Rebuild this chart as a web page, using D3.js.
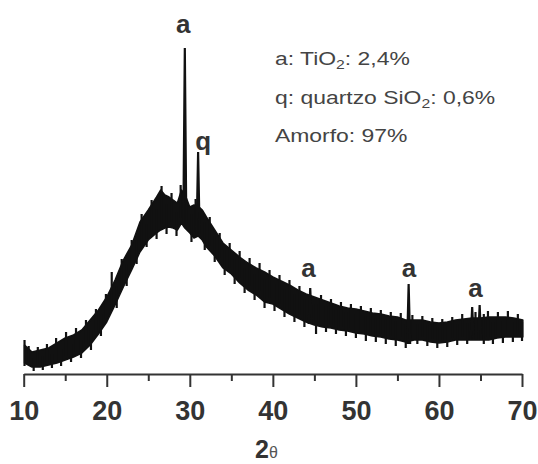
<html>
<head>
    <title>DRX</title>
    <script src='https://d3js.org/d3.v7.min.js'></script>
    <style>
        body { margin: 0; background: #fff; }
        text { font-family: "Liberation Sans", Arial, sans-serif; }
        .lbl { font-weight: bold; font-size: 26px; fill: #333; }
        .info { font-size: 17.5px; fill: #444; }
    </style>
</head>
<body>
    <svg id="drx"></svg>
    <script>
        // 2theta positions of the envelope of the noisy amorphous band
        var theta = [10.1, 11, 12, 13, 14, 15, 16, 17, 18, 19, 20, 21, 22, 23, 24, 25, 26, 26.5, 27, 27.5, 28, 28.5, 29, 29.4, 30, 30.5, 31, 31.5, 32, 33, 34, 35, 36, 37, 38, 39, 40, 41, 42, 43, 44, 45, 46, 47, 48, 49, 50, 51, 52, 53, 54, 55, 56, 57, 58, 59, 60, 61, 62, 63, 64, 65, 66, 67, 68, 69, 70.1];
        var lower = [11, 7, 7, 9, 11, 14, 17, 21, 29, 40, 52, 69, 87, 104, 122, 134, 141, 144, 146, 147, 146, 144, 151, 146, 141, 136, 138, 134, 127, 118, 106, 100, 91, 84, 79, 72, 70, 65, 60, 56, 52, 49, 47, 46, 44, 43, 41, 40, 38, 37, 35, 34, 32, 34, 34, 32, 31, 32, 34, 34, 34, 34, 34, 36, 37, 37, 37];
        var upper = [29, 22, 24, 26, 31, 36, 39, 44, 54, 64, 77, 94, 114, 129, 152, 164, 177, 184, 179, 177, 174, 171, 184, 180, 167, 169, 168, 164, 157, 144, 131, 124, 117, 111, 106, 102, 97, 93, 89, 84, 80, 77, 74, 71, 68, 66, 65, 63, 61, 60, 58, 57, 54, 54, 54, 52, 51, 52, 54, 55, 56, 56, 57, 57, 57, 56, 54];

        // sharp crystalline reflections: [2theta, base, top]
        var peaks = [[29.4, 150, 326], [31.0, 140, 222], [44.5, 50, 86], [56.35, 30, 90], [64.0, 34, 67], [64.9, 34, 69]];

        // noise spikes of the scan: [2theta, low, high]
        var noise = [[10.1, 8, 34], [10.6, 12, 28], [11.2, 3, 16], [11.7, 10, 27], [12.3, 4, 18], [12.8, 12, 30], [13.4, 6, 20], [13.9, 14, 36], [14.5, 8, 25], [15.1, 18, 42], [15.7, 12, 30], [16.3, 22, 46], [16.9, 16, 34], [17.5, 30, 54], [18.1, 24, 44], [18.7, 42, 65], [19.3, 38, 60], [19.9, 55, 80], [20.6, 65, 102], [21.2, 66, 88], [21.8, 88, 115], [22.4, 88, 110], [23.0, 108, 134], [23.6, 110, 134], [24.2, 128, 160], [24.8, 127, 150], [25.4, 142, 174], [26.0, 135, 165], [26.6, 150, 188], [27.2, 140, 170], [27.8, 152, 181], [28.4, 138, 162], [28.9, 156, 189], [30.2, 132, 160], [30.7, 142, 175], [31.8, 124, 152], [32.4, 128, 157], [33.0, 112, 138], [33.6, 116, 141], [34.2, 99, 124], [34.8, 106, 131], [35.4, 90, 115], [36.0, 96, 123], [36.6, 81, 106], [37.2, 88, 116], [37.8, 74, 100], [38.4, 83, 111], [39.0, 66, 95], [39.6, 76, 104], [40.2, 63, 90], [40.8, 70, 99], [41.4, 57, 85], [42.0, 64, 94], [42.6, 52, 80], [43.2, 59, 88], [43.8, 47, 75], [45.2, 40, 70], [45.8, 51, 79], [46.4, 42, 68], [47.0, 49, 75], [47.6, 40, 65], [48.2, 47, 72], [48.8, 38, 62], [49.4, 46, 70], [50.0, 36, 60], [50.6, 44, 68], [51.2, 33, 58], [51.8, 42, 66], [52.4, 32, 56], [53.0, 40, 64], [53.6, 30, 55], [54.2, 38, 62], [54.8, 28, 53], [55.4, 37, 61], [56.0, 26, 50], [56.8, 36, 59], [57.4, 30, 50], [58.0, 37, 58], [58.6, 28, 49], [59.2, 35, 56], [59.8, 26, 47], [60.4, 34, 55], [61.0, 27, 48], [61.6, 36, 57], [62.2, 29, 50], [62.8, 37, 60], [63.4, 30, 51], [64.4, 37, 62], [65.4, 30, 60], [65.9, 37, 63], [66.5, 30, 52], [67.1, 39, 62], [67.7, 31, 53], [68.3, 40, 63], [68.9, 32, 52], [69.5, 40, 60], [70.0, 33, 52]];

        var majorTicks = [10, 20, 30, 40, 50, 60, 70];
        var minorTicks = [15, 25, 35, 45, 55, 65];

        // peak labels: [text, 2theta, intensity]
        var peakLabels = [["a", 29.2, 341], ["q", 31.6, 224], ["a", 44.3, 97], ["a", 56.4, 97], ["a", 64.4, 77]];
        var infoLines = [["a: TiO", "2", ": 2,4%"], ["q: quartzo SiO", "2", ": 0,6%"], ["Amorfo: 97%", "", ""]];

        var width = 538, height = 464;
        var x = d3.scaleLinear().domain([10, 70]).range([23.7, 522]);
        var y = d3.scaleLinear().domain([0, 340]).range([374, 34]);

        var svg = d3.select("#drx").attr("width", width).attr("height", height);

        var band = theta.map(function (t, i) { return [t, lower[i], upper[i]]; });
        svg.append("path")
            .datum(band)
            .attr("d", d3.area()
                .x(function (d) { return x(d[0]); })
                .y0(function (d) { return y(d[1]); })
                .y1(function (d) { return y(d[2]); }))
            .attr("fill", "#111")
            .attr("stroke", "#111")
            .attr("stroke-width", 1.5)
            .attr("stroke-linejoin", "round");

        svg.selectAll(".noise")
            .data(noise)
            .enter()
            .append("line")
            .attr("x1", function (d) { return x(d[0]); })
            .attr("x2", function (d) { return x(d[0]); })
            .attr("y1", function (d) { return y(d[1]); })
            .attr("y2", function (d) { return y(d[2]); })
            .attr("stroke", "#111")
            .attr("stroke-width", 2.2);

        svg.selectAll(".peak")
            .data(peaks)
            .enter()
            .append("path")
            .attr("d", function (d) {
                return d3.line()([[x(d[0]) - 1.5, y(d[1])], [x(d[0]), y(d[2])], [x(d[0]) + 1.5, y(d[1])]]);
            })
            .attr("fill", "#111")
            .attr("stroke", "#111")
            .attr("stroke-width", 2.2);

        // x axis
        var axis = svg.append("g")
            .attr("transform", "translate(0," + y(0) + ")")
            .call(d3.axisBottom(x).tickValues(majorTicks).tickSize(13).tickSizeOuter(0).tickPadding(14));
        axis.select(".domain").attr("stroke", "#333").attr("stroke-width", 2);
        axis.selectAll(".tick line").attr("stroke", "#333").attr("stroke-width", 2);
        axis.selectAll(".tick text")
            .attr("fill", "#333")
            .style("font-size", "27px")
            .style("font-weight", "bold")
            .style("font-family", "'Liberation Sans', Arial, sans-serif");

        var minor = svg.append("g")
            .attr("transform", "translate(0," + y(0) + ")")
            .call(d3.axisBottom(x).tickValues(minorTicks).tickSize(7).tickFormat(""));
        minor.select(".domain").remove();
        minor.selectAll(".tick line").attr("stroke", "#333").attr("stroke-width", 2);

        var xl = svg.append("text")
            .attr("x", 255)
            .attr("y", 458)
            .attr("fill", "#333");
        xl.append("tspan").style("font-weight", "bold").style("font-size", "25px").text("2");
        xl.append("tspan").style("font-size", "16px").attr("fill", "#555").text("θ");

        svg.selectAll(".plab")
            .data(peakLabels)
            .enter()
            .append("text")
            .attr("class", "lbl")
            .attr("text-anchor", "middle")
            .attr("x", function (d) { return x(d[1]); })
            .attr("y", function (d) { return y(d[2]); })
            .text(function (d) { return d[0]; });

        infoLines.forEach(function (l, i) {
            var t = svg.append("text")
                .attr("class", "info")
                .attr("transform", "translate(275," + (65 + i * 38.5) + ") scale(1.31,1)");
            t.append("tspan").text(l[0]);
            if (l[1]) {
                t.append("tspan").attr("dy", 4).style("font-size", "12px").text(l[1]);
                t.append("tspan").attr("dy", -4).text(l[2]);
            }
        });
    </script>
</body>
</html>
